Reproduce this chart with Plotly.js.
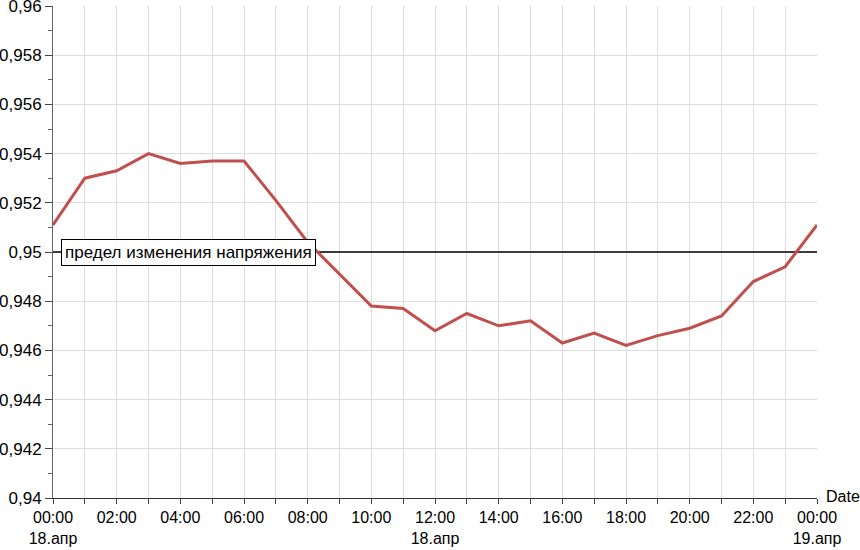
<!DOCTYPE html>
<html>
<head>
<meta charset="utf-8">
<script src="https://cdn.plot.ly/plotly-3.0.1.min.js"></script>
<style>
  body { margin: 0; background: #fff; }
  #chart { width: 860px; height: 550px; }
</style>
</head>
<body>
<div id="chart"></div>
<script>
// hourly readings, 18.04 00:00 .. 19.04 00:00
const hours = [
    '2019-04-18 00:00', '2019-04-18 01:00', '2019-04-18 02:00', '2019-04-18 03:00',
    '2019-04-18 04:00', '2019-04-18 05:00', '2019-04-18 06:00', '2019-04-18 07:00',
    '2019-04-18 08:00', '2019-04-18 09:00', '2019-04-18 10:00', '2019-04-18 11:00',
    '2019-04-18 12:00', '2019-04-18 13:00', '2019-04-18 14:00', '2019-04-18 15:00',
    '2019-04-18 16:00', '2019-04-18 17:00', '2019-04-18 18:00', '2019-04-18 19:00',
    '2019-04-18 20:00', '2019-04-18 21:00', '2019-04-18 22:00', '2019-04-18 23:00',
    '2019-04-19 00:00'
];
const voltage = [
    0.9511, 0.9530, 0.9533, 0.9540, 0.9536, 0.9537, 0.9537, 0.9521,
    0.9504, 0.9491, 0.9478, 0.9477, 0.9468, 0.9475, 0.9470, 0.9472,
    0.9463, 0.9467, 0.9462, 0.9466, 0.9469, 0.9474, 0.9488, 0.9494,
    0.9511
];
const limitX = ['2019-04-18 00:00', '2019-04-19 00:00'];
const limitY = [0.95, 0.95];
const limitLabel = 'предел изменения напряжения';

const xTickVals = hours;
const xTickText = [
    '00:00<br>18.апр', '', '02:00', '', '04:00', '', '06:00', '', '08:00', '', '10:00', '',
    '12:00<br>18.апр', '', '14:00', '', '16:00', '', '18:00', '', '20:00', '', '22:00', '',
    '00:00<br>19.апр'
];
const yTickVals = [0.94, 0.942, 0.944, 0.946, 0.948, 0.95, 0.952, 0.954, 0.956, 0.958, 0.96];
const yTickText = ['0,94', '0,942', '0,944', '0,946', '0,948', '0,95', '0,952', '0,954', '0,956', '0,958', '0,96'];

const fam = 'Liberation Sans, Arial, sans-serif';
const font = { family: fam, size: 17, color: '#000' };
const xFont = { family: fam, size: 16, color: '#000' };

const layout = {
    width: 860,
    height: 550,
    margin: { t: 6, r: 43, b: 52, l: 53 },
    paper_bgcolor: '#fff',
    plot_bgcolor: '#fff',
    font: font,
    showlegend: false,
    xaxis: {
        type: 'date',
        range: [hours[0], hours[hours.length - 1]],
        tickmode: 'array',
        tickvals: xTickVals,
        ticktext: xTickText,
        ticks: 'outside',
        ticklen: 5,
        tickcolor: '#444',
        showgrid: true,
        gridcolor: '#dcdcdc',
        gridwidth: 1,
        showline: true,
        linecolor: '#333',
        linewidth: 1,
        zeroline: false,
        ticklabeloverflow: 'allow',
        tickfont: xFont
    },
    yaxis: {
        range: [0.94, 0.9600002],
        tickmode: 'array',
        tickvals: yTickVals,
        ticktext: yTickText,
        ticks: 'outside',
        ticklen: 7,
        tickcolor: '#444',
        minor: { dtick: 0.001, ticks: 'outside', ticklen: 4, tickcolor: '#666', showgrid: false },
        showgrid: true,
        gridcolor: '#dcdcdc',
        gridwidth: 1,
        showline: true,
        linecolor: '#666',
        linewidth: 1,
        zeroline: false,
        ticklabeloverflow: 'allow',
        tickfont: font
    },
    annotations: [
        {
            xref: 'paper', yref: 'y',
            x: 0.011, y: limitY[0],
            xanchor: 'left', yanchor: 'middle',
            text: limitLabel,
            showarrow: false,
            bgcolor: '#fff',
            bordercolor: '#000',
            borderwidth: 1,
            borderpad: 3,
            font: font
        },
        {
            xref: 'paper', yref: 'paper',
            x: 1, y: 0,
            xanchor: 'left', yanchor: 'middle',
            xshift: 7, yshift: 2,
            text: 'Date',
            showarrow: false,
            font: xFont
        }
    ]
};

Plotly.newPlot('chart', [
    {
        x: limitX,
        y: limitY,
        type: 'scatter',
        mode: 'lines',
        line: { color: '#000', width: 1.5 },
        hoverinfo: 'skip'
    },
    {
        x: hours,
        y: voltage,
        type: 'scatter',
        mode: 'lines',
        line: { color: '#c0504d', width: 3 }
    }
], layout, { displayModeBar: false });
</script>
</body>
</html>
